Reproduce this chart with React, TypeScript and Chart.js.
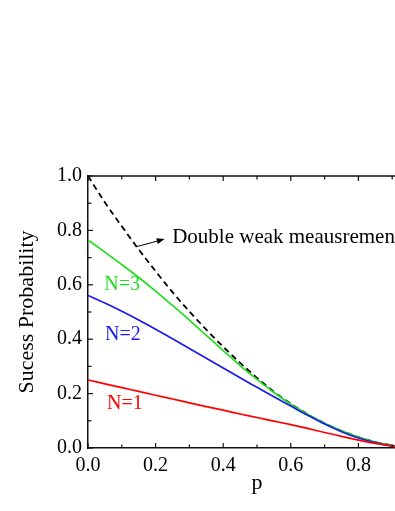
import React, { useEffect, useRef } from 'react';
import { Chart, registerables } from 'chart.js';
Chart.register(...registerables);

const P = [0, 0.05, 0.1, 0.15, 0.2, 0.25, 0.3, 0.35, 0.4, 0.45, 0.5, 0.55, 0.6, 0.65, 0.7, 0.75, 0.8, 0.85, 0.9, 0.95];
const DOUBLE_WEAK = [1.0, 0.903, 0.815, 0.73, 0.65, 0.573, 0.502, 0.435, 0.372, 0.313, 0.258, 0.207, 0.163, 0.124, 0.091, 0.063, 0.04, 0.022, 0.01, 0.0025];
const N3 = [0.765, 0.72, 0.674, 0.627, 0.577, 0.524, 0.47, 0.414, 0.358, 0.303, 0.252, 0.204, 0.161, 0.124, 0.091, 0.063, 0.04, 0.022, 0.01, 0.0025];
const N2 = [0.561, 0.533, 0.503, 0.471, 0.437, 0.402, 0.366, 0.33, 0.294, 0.258, 0.223, 0.188, 0.154, 0.12, 0.088, 0.06, 0.037, 0.02, 0.008, 0.002];
const N1 = [0.25, 0.236, 0.222, 0.208, 0.194, 0.18, 0.166, 0.152, 0.139, 0.125, 0.112, 0.099, 0.086, 0.072, 0.057, 0.043, 0.029, 0.017, 0.007, 0.002];
const SERIES_LABELS = ['N=1', 'N=2', 'N=3', 'Double weak meausrement'];
const X_TITLE = 'p';
const Y_TITLE = 'Sucess Probability';
const MINOR_TICKS = [0, 0.1, 0.2, 0.3, 0.4, 0.5, 0.6, 0.7, 0.8, 0.9, 1.0];
const MAJOR_TICKS = [0, 0.2, 0.4, 0.6, 0.8, 1.0];

const FONT = '"Liberation Serif", "Times New Roman", serif';

const overlayPlugin = {
  id: 'overlay',
  afterDatasetsDraw(chart: any) {
    const { ctx, chartArea } = chart;
    const xs = chart.scales.x;
    const ys = chart.scales.y;
    ctx.save();
    ctx.strokeStyle = '#111';
    ctx.lineWidth = 1.5;
    ctx.beginPath();
    ctx.moveTo(chartArea.left, chartArea.top);
    ctx.lineTo(chartArea.right, chartArea.top);
    ctx.stroke();
    ctx.lineWidth = 1.2;
    MINOR_TICKS.forEach((v) => {
      const major = MAJOR_TICKS.some((m) => Math.abs(m - v) < 1e-9);
      const len = major ? 5 : 3.5;
      const px = xs.getPixelForValue(v);
      ctx.beginPath();
      ctx.moveTo(px, chartArea.bottom);
      ctx.lineTo(px, chartArea.bottom - len);
      ctx.moveTo(px, chartArea.top);
      ctx.lineTo(px, chartArea.top + len);
      ctx.stroke();
      const py = ys.getPixelForValue(v);
      ctx.beginPath();
      ctx.moveTo(chartArea.left, py);
      ctx.lineTo(chartArea.left + len, py);
      ctx.stroke();
    });
    ctx.font = `20px ${FONT}`;
    ctx.textBaseline = 'middle';
    ctx.textAlign = 'center';
    ctx.fillStyle = '#ff0000';
    ctx.fillText(SERIES_LABELS[0], xs.getPixelForValue(0.109), ys.getPixelForValue(0.162));
    ctx.fillStyle = '#1a1aee';
    ctx.fillText(SERIES_LABELS[1], xs.getPixelForValue(0.103), ys.getPixelForValue(0.415));
    ctx.fillStyle = '#22dd22';
    ctx.fillText(SERIES_LABELS[2], xs.getPixelForValue(0.101), ys.getPixelForValue(0.6));
    ctx.fillStyle = '#000';
    ctx.textAlign = 'left';
    ctx.font = `21px ${FONT}`;
    ctx.fillText(SERIES_LABELS[3], xs.getPixelForValue(0.249), ys.getPixelForValue(0.775));
    const x1 = xs.getPixelForValue(0.143), y1 = ys.getPixelForValue(0.74);
    const x2 = xs.getPixelForValue(0.227), y2 = ys.getPixelForValue(0.768);
    const ang = Math.atan2(y2 - y1, x2 - x1);
    ctx.strokeStyle = '#000';
    ctx.lineWidth = 1;
    ctx.beginPath();
    ctx.moveTo(x1, y1);
    ctx.lineTo(x2 - 6 * Math.cos(ang), y2 - 6 * Math.sin(ang));
    ctx.stroke();
    ctx.beginPath();
    ctx.moveTo(x2, y2);
    ctx.lineTo(x2 - 8 * Math.cos(ang) + 3 * Math.sin(ang), y2 - 8 * Math.sin(ang) - 3 * Math.cos(ang));
    ctx.lineTo(x2 - 8 * Math.cos(ang) - 3 * Math.sin(ang), y2 - 8 * Math.sin(ang) + 3 * Math.cos(ang));
    ctx.closePath();
    ctx.fill();
    ctx.restore();
  },
};

export default function App() {
  const ref = useRef<HTMLCanvasElement>(null);
  useEffect(() => {
    if (!ref.current) return;
    const mk = (vals: number[]) => P.map((x, i) => ({ x, y: vals[i] }));
    const chart = new Chart(ref.current, {
      type: 'line',
      data: {
        datasets: [
          { label: SERIES_LABELS[0], data: mk(N1), borderColor: '#ff0000', borderWidth: 1.7, pointRadius: 0, cubicInterpolationMode: 'monotone' },
          { label: SERIES_LABELS[1], data: mk(N2), borderColor: '#1a1aee', borderWidth: 1.7, pointRadius: 0, cubicInterpolationMode: 'monotone' },
          { label: SERIES_LABELS[2], data: mk(N3), borderColor: '#22dd22', borderWidth: 1.7, pointRadius: 0, cubicInterpolationMode: 'monotone' },
          { label: SERIES_LABELS[3], data: mk(DOUBLE_WEAK), borderColor: '#000', borderWidth: 1.8, borderDash: [6, 4], pointRadius: 0, cubicInterpolationMode: 'monotone' },
        ],
      } as any,
      options: {
        responsive: false,
        animation: false,
        layout: { padding: { top: 176, right: 24, left: 0, bottom: 0 } },
        plugins: { legend: { display: false }, tooltip: { enabled: false } },
        scales: {
          x: {
            type: 'linear',
            min: 0,
            max: 1.0,
            afterFit: (s: any) => { s.height = 63; },
            afterBuildTicks: (s: any) => { s.ticks = MAJOR_TICKS.map((v) => ({ value: v })); },
            grid: { display: true, drawOnChartArea: false, drawTicks: false },
            border: { display: true, color: '#111', width: 1.5 },
            ticks: { color: '#000', padding: 6, font: { family: FONT, size: 20 }, callback: (v: any) => Number(v).toFixed(1) },
            title: { display: true, text: X_TITLE, color: '#000', font: { family: FONT, size: 22 }, padding: { top: 0, bottom: 15 } },
          },
          y: {
            type: 'linear',
            min: 0,
            max: 1.0,
            afterFit: (s: any) => { s.width = 88; },
            afterBuildTicks: (s: any) => { s.ticks = MAJOR_TICKS.map((v) => ({ value: v })); },
            grid: { display: true, drawOnChartArea: false, drawTicks: false },
            border: { display: true, color: '#111', width: 1.5 },
            ticks: { color: '#000', padding: 6, font: { family: FONT, size: 20 }, callback: (v: any) => Number(v).toFixed(1) },
            title: { display: true, text: Y_TITLE, color: '#000', font: { family: FONT, size: 22 }, padding: { top: 14, bottom: 0 } },
          },
        },
      } as any,
      plugins: [overlayPlugin],
    });
    return () => chart.destroy();
  }, []);
  return (
    <div style={{ position: 'fixed', left: 0, top: 0, width: 395, height: 511, overflow: 'hidden', background: '#fff' }}>
      <canvas ref={ref} width={450} height={511} style={{ display: 'block' }} />
    </div>
  );
}
